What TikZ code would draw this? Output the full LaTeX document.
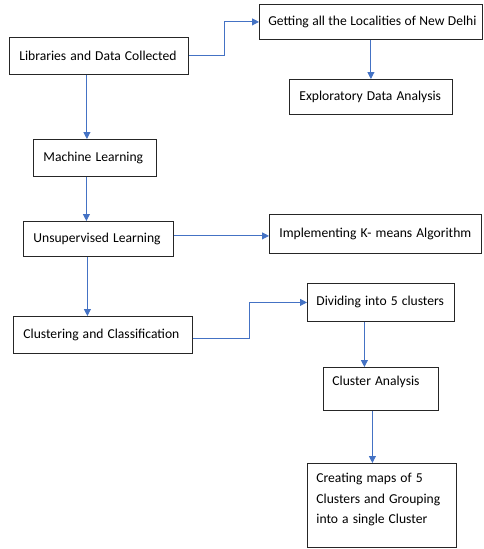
\documentclass[tikz,border=0pt]{standalone}
\usepackage{fontspec}
\setmainfont{Carlito}
\usetikzlibrary{arrows.meta}
\definecolor{arrblue}{RGB}{68,114,196}
\newcommand{\bxfont}{\fontsize{13.6}{20.5}\selectfont\spaceskip=0.3em plus 0.1em minus 0.05em\relax}
\tikzset{
  box/.style={draw=black!85, line width=0.8pt, anchor=north west, inner xsep=10pt, inner ysep=0pt,
    align=left, font=\bxfont},
  arr/.style={draw=arrblue, line width=0.9pt, -{Triangle[width=7pt,length=7pt]}}
}
\begin{document}
\begin{tikzpicture}[x=1pt,y=-1pt]
\useasboundingbox (0,0) rectangle (484,549);
\node[box, minimum width=179pt, minimum height=37pt] (b1) at (9,37) {\makebox[159pt][l]{Libraries and Data Collected}};
\node[box, minimum width=223pt, minimum height=35pt, inner xsep=9pt] (b2) at (259,4) {\makebox[205pt][l]{\makebox[208pt][s]{Getting all the Localities of New Delhi}}};
\node[box, minimum width=163pt, minimum height=35pt] (b3) at (289,79) {\makebox[143pt][l]{Exploratory Data Analysis}};
\node[box, minimum width=123pt, minimum height=37pt] (b4) at (33,139) {\makebox[103pt][l]{Machine Learning}};
\node[box, minimum width=150pt, minimum height=35pt] (b5) at (23,221) {\makebox[130pt][l]{Unsupervised Learning}};
\node[box, minimum width=212pt, minimum height=39pt] (b6) at (269,214) {\makebox[192pt][l]{Implementing K- means Algorithm}};
\node[box, minimum width=179pt, minimum height=37pt] (b7) at (13,316) {\makebox[159pt][l]{Clustering and Classification}};
\node[box, minimum width=147pt, minimum height=38pt, inner xsep=9pt] (b8) at (307,283) {\makebox[129pt][l]{Dividing into 5 clusters}};
\node[box, inner xsep=9pt, inner ysep=9pt] (b9) at (323,367) {\parbox[c][25pt][t]{97pt}{Cluster Analysis}};
\node[box, inner xsep=9pt, inner ysep=10pt] (b10) at (307,463) {\parbox[c][64pt][t]{131pt}{\spaceskip=0.3em\relax Creating maps of 5\\Clusters and Grouping\\into a single Cluster}};
\draw[arr] (b1.east) -- ++(36,0) |- (b2.west);
\draw[arr] (b2.south) -- (b3.north);
\draw[arr] ([xshift=-12pt]b1.south) -- ([xshift=-12pt]b1.south |- b4.north);
\draw[arr] ([xshift=-8.5pt]b4.south) -- ([xshift=-8.5pt]b4.south |- b5.north);
\draw[arr] ([yshift=3pt]b5.east) -- ([yshift=3pt]b5.east -| b6.west);
\draw[arr] ([xshift=-11pt]b5.south) -- ([xshift=-11pt]b5.south |- b7.north);
\draw[arr] ([yshift=-3.5pt]b7.east) -- ++(57,0) |- (b8.west);
\draw[arr] ([xshift=-16.5pt]b8.south) -- ([xshift=-16.5pt]b8.south |- b9.north);
\draw[arr] ([xshift=-8.5pt]b9.south) -- ([xshift=-8.5pt]b9.south |- b10.north);
\end{tikzpicture}
\end{document}
